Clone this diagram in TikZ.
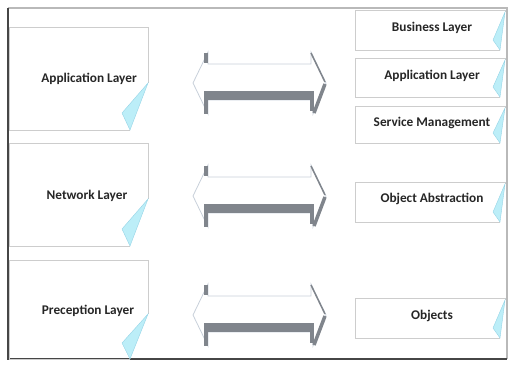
\documentclass[tikz,border=0pt]{standalone}
\usepackage{fontspec}
\setmainfont{Carlito}
\usetikzlibrary{calc}
\definecolor{boxgray}{RGB}{205,205,205}
\definecolor{flapcyan}{RGB}{188,238,248}
\definecolor{flapedge}{RGB}{150,212,230}
\definecolor{framedark}{RGB}{70,70,70}
\definecolor{framelight}{RGB}{185,185,185}
\definecolor{arrowdark}{RGB}{128,133,140}
\definecolor{arrowedge}{RGB}{200,208,218}
\tikzset{
	layertext/.style={font=\fontsize{13.3}{15}\selectfont\bfseries, text=black!85},
	boxline/.style={draw=boxgray, line width=1pt},
	flap/.style={fill=flapcyan, draw=flapedge, line width=0.4pt},
	bevel/.style={draw=arrowdark, line width=3.5pt},
}
% box with a curled corner: #1 left, #2 top, #3 right, #4 bottom,
% #5 y where the curl starts, #6 x where it ends, #7/#8 tip of the flap
\newcommand{\foldedbox}[8]{
	\draw[boxline] (#3,#5) -- (#3,#2) -- (#1,#2) -- (#1,#4) -- (#6,#4);
	\filldraw[flap] (#3,#5) -- (#7,#8) -- (#6,#4) -- cycle;
}
% double headed block arrow around height #1
\newcommand{\dblarrow}[1]{
	\filldraw[fill=white, draw=arrowedge, line width=0.8pt]
		(193,#1) -- (208,#1-31) -- (208,#1-19) -- (311,#1-19) -- (311,#1-31)
		-- (326,#1) -- (313,#1+31) -- (313,#1+17) -- (208,#1+17) -- (208,#1+31) -- cycle;
	\fill[arrowdark] (206,#1+8) rectangle (312,#1+17);
	\draw[bevel] (206,#1+8) -- (206,#1+31);
	\draw[bevel] (206,#1-30) -- (206,#1-20);
	\draw[bevel] (312,#1+8) -- (312,#1+28);
	\draw[draw=arrowdark, line width=1.5pt] (311,#1-30) -- (325,#1-1);
	\draw[bevel] (325,#1+1) -- (314,#1+30);
}

\begin{document}
\begin{tikzpicture}[x=1pt, y=-1pt]
	\useasboundingbox (0,0) rectangle (509,365);

	% frame
	\draw[framelight, line width=1.2pt] (8,8) -- (507,8) -- (507,359);
	\draw[framedark, line width=1.2pt] (8,8) -- (8,359) -- (507,359);

	% stack on the left
	\foldedbox{9}{27}{148}{130}{83}{130}{122}{113}
	\foldedbox{9}{143}{148}{246}{199}{130}{122}{229}
	\foldedbox{9}{260}{148}{359}{314}{130}{122}{343}
	\node[layertext] (appl) at (89,79) {Application Layer};
	\node[layertext] (netl) at (87,196) {Network Layer};
	\node[layertext] (perl) at (88,311) {Preception Layer};

	% arrows between the stacks
	\foreach \yc in {83,196,315} {
		\dblarrow{\yc}
	}

	% stack on the right
	\foldedbox{355}{10}{505}{50}{12}{500}{493}{40}
	\foldedbox{355}{58}{505}{97}{60}{500}{493}{87}
	\foldedbox{355}{106}{505}{143}{108}{500}{493}{133}
	\foldedbox{355}{182}{505}{222}{184}{500}{493}{212}
	\foldedbox{355}{298}{505}{338}{300}{500}{493}{328}
	\node[layertext] (busr) at (432,28) {Business Layer};
	\node[layertext] (appr) at (432,76) {Application Layer};
	\node[layertext] (serr) at (432,123) {Service Management};
	\node[layertext] (absr) at (432,199) {Object Abstraction};
	\node[layertext] (objr) at (432,316) {Objects};
\end{tikzpicture}
\end{document}
